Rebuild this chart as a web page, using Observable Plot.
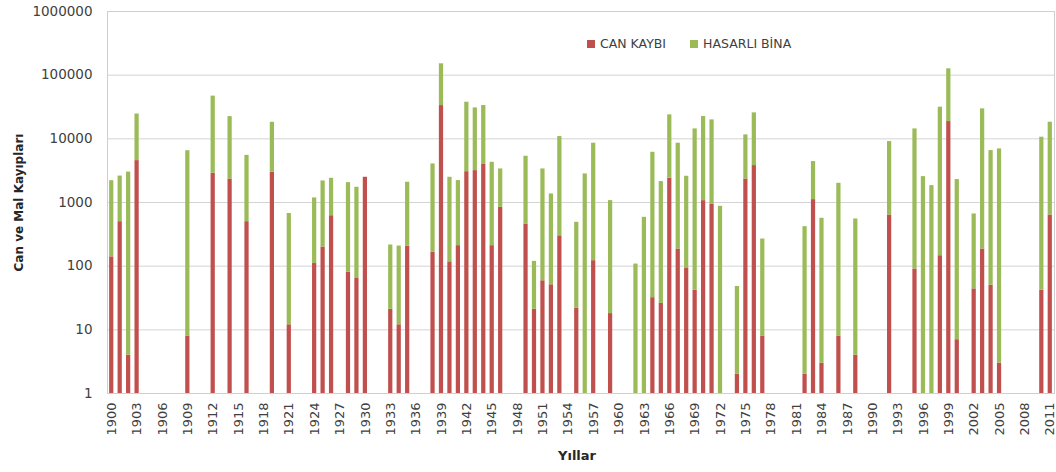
<!DOCTYPE html>
<html>
<head>
<meta charset="utf-8">
<script src="https://cdn.jsdelivr.net/npm/d3@7"></script>
<script src="https://cdn.jsdelivr.net/npm/@observablehq/plot@0.6"></script>
<style>
  html, body { margin: 0; padding: 0; background: #fff; }
  #wrap { position: relative; width: 1056px; height: 472px; font-family: "DejaVu Sans", sans-serif; }
  #legend { position: absolute; left: 587px; top: 36px; display: flex; align-items: center; font-size: 12.5px; color: #404040; }
  #legend .sw { display: inline-block; width: 8px; height: 8px; margin-right: 5px; }
  #legend .item { display: flex; align-items: center; margin-right: 24px; }
</style>
</head>
<body>
<div id="wrap"></div>
<script>
const years = d3.range(1900, 2012);
const eventYears = [1900,1901,1902,1903,1909,1912,1914,1916,1919,1921,1924,1925,1926,1928,1929,1930,1933,1934,1935,1938,1939,1940,1941,1942,1943,1944,1945,1946,1949,1950,1951,1952,1953,1955,1956,1957,1959,1962,1963,1964,1965,1966,1967,1968,1969,1970,1971,1972,1974,1975,1976,1977,1982,1983,1984,1986,1988,1992,1995,1996,1997,1998,1999,2000,2002,2003,2004,2005,2010,2011];
const canKaybi = [140,500,4,4550,8,2880,2340,500,3000,12,110,200,620,80,64,2490,21,12,205,165,33300,117,210,3050,3170,4035,210,840,460,21,59,51,300,22,0,122,18,0,0,32,26,2400,186,92,42,1070,948,0,2,2343,3800,8,2,1110,3,8,4,637,90,0,0,146,18670,7,44,186,50,3,42,637];
const hasarliBina = [2060,2100,3000,20000,6500,44000,20000,5000,15200,660,1070,1980,1780,1970,1670,0,194,195,1875,3870,117400,2370,2000,34550,27430,29300,4075,2525,4865,98,3306,1311,10560,467,2810,8408,1052,108,585,6118,2104,21400,8344,2491,14278,21330,18900,871,46,9190,21780,259,415,3285,562,1996,547,8423,14230,2550,1840,31254,107230,2283,616,29374,6490,6947,10558,17603];
const seriesNames = ["CAN KAYBI", "HASARLI BİNA"];
const seriesColors = ["#c0504d", "#9bbb59"];
const yTicks = [1, 10, 100, 1000, 10000, 100000, 1000000];
const xTicks = d3.range(1900, 2012, 3);

const rows = eventYears.map((yr, i) => ({year: yr, can: canKaybi[i], bina: hasarliBina[i]}));
const redRows = rows.filter(d => d.can > 0);
const greenRows = rows.filter(d => d.bina > 0);

const chart = Plot.plot({
  width: 1056,
  height: 472,
  marginLeft: 107,
  marginRight: 2,
  marginTop: 11,
  marginBottom: 79,
  style: {fontFamily: "DejaVu Sans, sans-serif", fontSize: "13px", color: "#404040", background: "#fff"},
  x: {type: "band", domain: years, paddingInner: 0.5, paddingOuter: 0.25, label: null},
  y: {type: "log", domain: [1, 1000000], label: null},
  marks: [
    Plot.gridY(yTicks, {stroke: "#d4d4d4", strokeOpacity: 1}),
    Plot.frame({stroke: "#cfcfcf"}),
    Plot.barY(redRows, {x: "year", y1: 1, y2: "can", fill: seriesColors[0]}),
    Plot.barY(greenRows, {x: "year", y1: d => Math.max(d.can, 1), y2: d => d.can + d.bina, fill: seriesColors[1]}),
    Plot.axisY({ticks: yTicks, tickSize: 0, tickPadding: 15, tickFormat: d => String(d), fontSize: 13.5, label: null}),
    Plot.axisX({ticks: xTicks, tickSize: 0, tickPadding: 9, tickRotate: -90, tickFormat: d => String(d), fontSize: 13, label: null}),
    Plot.text(["Can ve Mal Kayıpları"], {frameAnchor: "left", textAnchor: "middle", dx: -88, rotate: -90, fontWeight: "bold", fontSize: 12, fill: "#262626"}),
    Plot.text(["Yıllar"], {frameAnchor: "bottom", dy: 66, dx: -4, fontWeight: "bold", fontSize: 13, fill: "#262626"})
  ]
});
const wrap = document.getElementById("wrap");
wrap.appendChild(chart);
const legend = document.createElement("div");
legend.id = "legend";
seriesNames.forEach((n, i) => {
  const item = document.createElement("span");
  item.className = "item";
  const sw = document.createElement("span");
  sw.className = "sw";
  sw.style.background = seriesColors[i];
  item.appendChild(sw);
  item.appendChild(document.createTextNode(n));
  legend.appendChild(item);
});
wrap.appendChild(legend);
</script>
</body>
</html>
